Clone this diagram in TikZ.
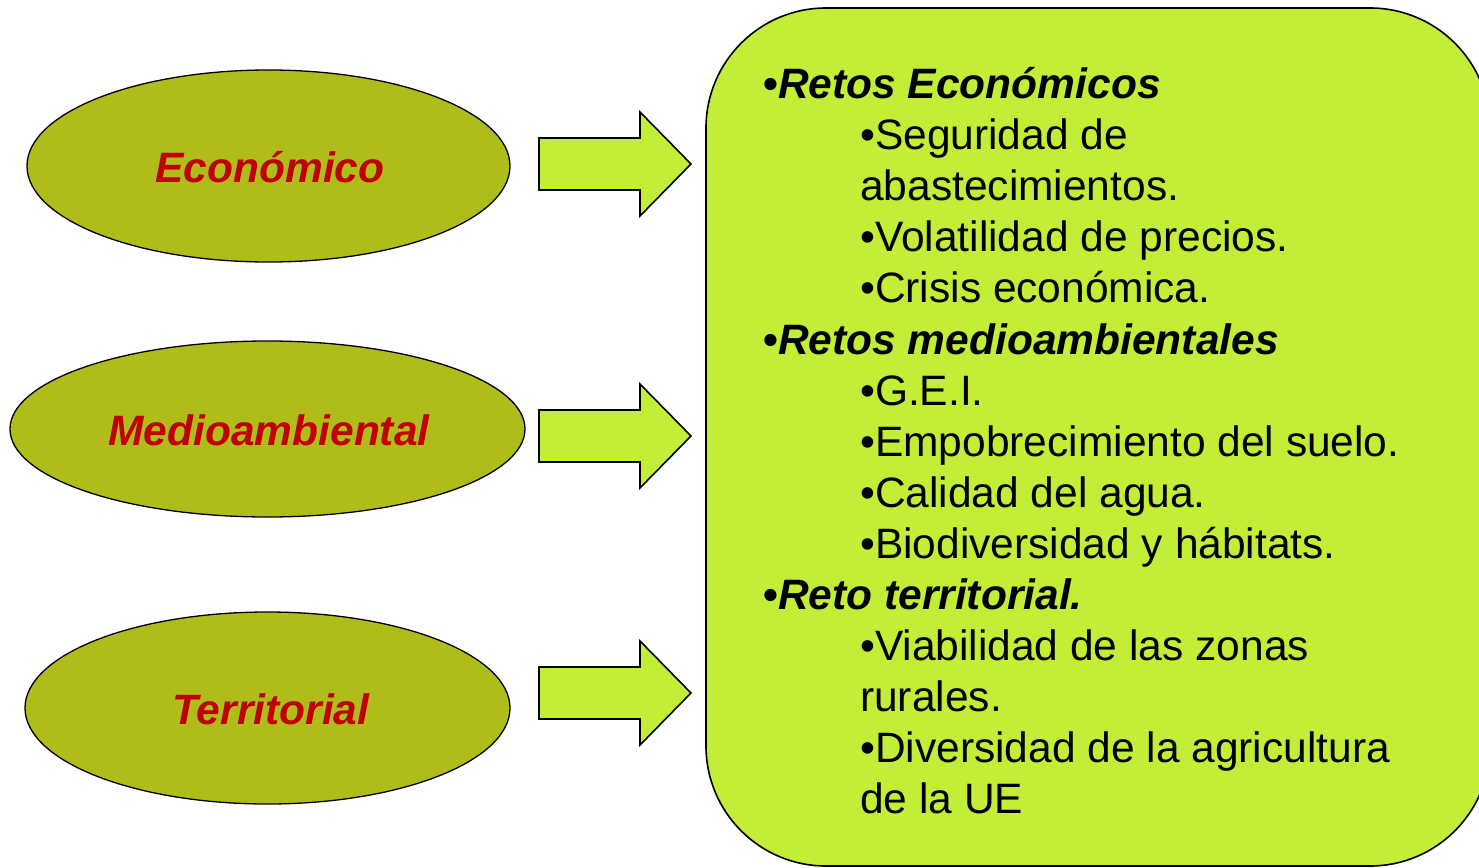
\documentclass[tikz,border=0pt]{standalone}
\usepackage{fontspec}
\setmainfont{Liberation Sans}
\definecolor{olivefill}{HTML}{AFBC19}
\definecolor{limefill}{HTML}{C2EE37}
\definecolor{labelred}{HTML}{C00000}
\begin{document}
\begin{tikzpicture}[x=1pt,y=-1pt,
  ovaltext/.style={text=labelred,font=\fontsize{42.5}{51}\selectfont\bfseries\itshape,anchor=base,inner sep=0pt},
  blockarrow/.style={draw=black,line width=1.6pt,fill=limefill,line join=miter},
  bigbox/.style={draw=black,line width=1.6pt,fill=limefill,rounded corners=120pt},
  line/.style={anchor=base west,inner sep=0pt,font=\fontsize{42.5}{51}\selectfont}]
\useasboundingbox (0,0) rectangle (1479,867);
\clip (0,0) rectangle (1479,867);
% ellipses
\fill[olivefill,draw=black,line width=1.3pt] (268.5,166) ellipse [x radius=241.5,y radius=96];
\fill[olivefill,draw=black,line width=1.3pt] (267.5,429) ellipse [x radius=257.5,y radius=88];
\fill[olivefill,draw=black,line width=1.3pt] (267.5,708) ellipse [x radius=242.5,y radius=96];
\node[ovaltext] (eco) at (270,182) {Económico};
\node[ovaltext] (med) at (269,445) {Medioambiental};
\node[ovaltext] (ter) at (271,724) {Territorial};
% box
\draw[bigbox] (706,8) rectangle (1490,866);
% arrows
\foreach \yc in {164,436,693}{
  \draw[blockarrow] (539,\yc-26) -- (640,\yc-26) -- (640,\yc-52) -- (691,\yc)
     -- (640,\yc+52) -- (640,\yc+26) -- (539,\yc+26) -- cycle;
}
% text
\node[line] (t0) at (763,98.5) {\textbf{•\textit{Retos Económicos}}};
\node[line] (t1) at (860,149.6) {•Seguridad de};
\node[line] (t2) at (860,200.7) {abastecimientos.};
\node[line] (t3) at (860,251.8) {•Volatilidad de precios.};
\node[line] (t4) at (860,302.9) {•Crisis económica.};
\node[line] (t5) at (763,354) {\textbf{•\textit{Retos medioambientales}}};
\node[line] (t6) at (860,405.1) {•G.E.I.};
\node[line] (t7) at (860,456.2) {•Empobrecimiento del suelo.};
\node[line] (t8) at (860,507.3) {•Calidad del agua.};
\node[line] (t9) at (860,558.4) {•Biodiversidad y hábitats.};
\node[line] (t10) at (763,609.5) {\textbf{•\textit{Reto territorial.}}};
\node[line] (t11) at (860,660.6) {•Viabilidad de las zonas};
\node[line] (t12) at (860,711.7) {rurales.};
\node[line] (t13) at (860,762.8) {•Diversidad de la agricultura};
\node[line] (t14) at (860,813.9) {de la UE};
\end{tikzpicture}
\end{document}
